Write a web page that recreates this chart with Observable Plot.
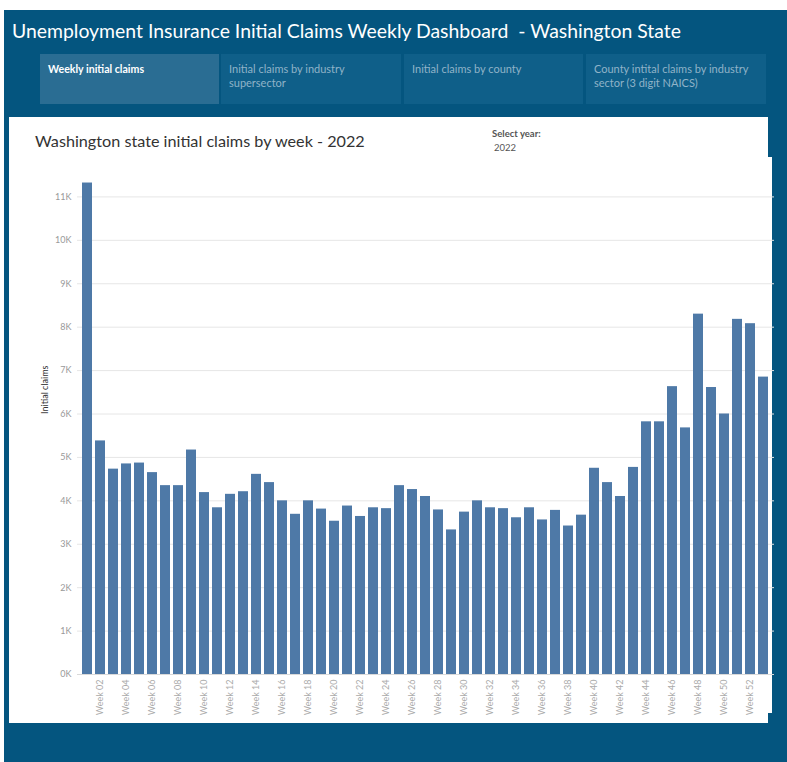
<!DOCTYPE html>
<html>
<head>
<meta charset="utf-8">
<script src="https://cdn.jsdelivr.net/npm/d3@7"></script>
<script src="https://cdn.jsdelivr.net/npm/@observablehq/plot@0.6"></script>
<style>
  body { margin: 0; background: #ffffff; font-family: Lato, "Noto Sans", sans-serif; }
  #page { position: relative; width: 787px; height: 762px; overflow: hidden; }
  .abs { position: absolute; }
  #bg { left: 4px; top: 10px; width: 783px; height: 752px; background: #04557f; }
  #title { left: 12px; top: 19px; color: #ffffff; font-size: 19.4px; white-space: pre; }
  .tab { top: 54px; height: 50px; background: #0f5f89; color: #8fb3c8; font-size: 11px; line-height: 14px; padding: 8px 8px; box-sizing: border-box; }
  .tab.active { background: #2a6d93; color: #ffffff; font-weight: bold; font-size: 10.6px; }
  .panel { background: #ffffff; }
  #ctitle { left: 35px; top: 131px; font-size: 16.2px; color: #333333; white-space: nowrap; }
  #sel { left: 492px; top: 128px; font-size: 9.5px; font-weight: bold; color: #555555; }
  #selv { left: 494px; top: 142px; font-size: 9.5px; color: #555555; }
  #chart { left: 0px; top: 140px; }
</style>
</head>
<body>
<div id="page">
  <div id="bg" class="abs"></div>
  <div id="title" class="abs"></div>
  <div id="tabs"></div>
  <div class="abs panel" style="left:9px;top:117px;width:759px;height:606px;"></div>
  <div class="abs panel" style="left:9px;top:157px;width:763px;height:556px;"></div>
  <div id="ctitle" class="abs"></div>
  <div id="sel" class="abs"></div>
  <div id="selv" class="abs"></div>
  <div id="chart" class="abs"></div>
</div>
<script>
const dashTitle = "Unemployment Insurance Initial Claims Weekly Dashboard  - Washington State";
const tabLabels = ["Weekly initial claims", "Initial claims by industry supersector", "Initial claims by county", "County intital claims by industry sector (3 digit NAICS)"];
const chartTitle = "Washington state initial claims by week - 2022";
const selectLabel = "Select year:";
const selectValue = "2022";
const yLabel = "Initial claims";

const weeks = ["Week 01","Week 02","Week 03","Week 04","Week 05","Week 06","Week 07","Week 08","Week 09","Week 10",
  "Week 11","Week 12","Week 13","Week 14","Week 15","Week 16","Week 17","Week 18","Week 19","Week 20",
  "Week 21","Week 22","Week 23","Week 24","Week 25","Week 26","Week 27","Week 28","Week 29","Week 30",
  "Week 31","Week 32","Week 33","Week 34","Week 35","Week 36","Week 37","Week 38","Week 39","Week 40",
  "Week 41","Week 42","Week 43","Week 44","Week 45","Week 46","Week 47","Week 48","Week 49","Week 50",
  "Week 51","Week 52","Week 53"];
const claims = [11320, 5380, 4730, 4850, 4870, 4650, 4350, 4350, 5170, 4190,
  3840, 4150, 4210, 4610, 4420, 4000, 3690, 4000, 3810, 3530,
  3880, 3640, 3840, 3820, 4350, 4260, 4100, 3790, 3330, 3740,
  4000, 3840, 3820, 3610, 3840, 3560, 3780, 3420, 3670, 4750,
  4420, 4100, 4770, 5820, 5820, 6630, 5680, 8300, 6610, 6000,
  8180, 8080, 6850];
const xTickLabels = ["Week 02","Week 04","Week 06","Week 08","Week 10","Week 12","Week 14","Week 16","Week 18","Week 20",
  "Week 22","Week 24","Week 26","Week 28","Week 30","Week 32","Week 34","Week 36","Week 38","Week 40",
  "Week 42","Week 44","Week 46","Week 48","Week 50","Week 52"];
const yTicks = [0,1000,2000,3000,4000,5000,6000,7000,8000,9000,10000,11000];

document.getElementById("title").textContent = dashTitle;
document.getElementById("ctitle").textContent = chartTitle;
document.getElementById("sel").textContent = selectLabel;
document.getElementById("selv").textContent = selectValue;

const tabLefts = [40, 221, 404, 586];
const tabWidths = [179, 180, 179, 180];
const tabsDiv = document.getElementById("tabs");
tabLabels.forEach((t, i) => {
  const d = document.createElement("div");
  d.className = "abs tab" + (i === 0 ? " active" : "");
  d.style.left = tabLefts[i] + "px";
  d.style.width = tabWidths[i] + "px";
  d.textContent = t;
  tabsDiv.appendChild(d);
});

const data = weeks.map((w, i) => ({week: w, claims: claims[i]}));

const chart = Plot.plot({
  width: 787,
  height: 620,
  marginLeft: 77,
  marginRight: 13,
  marginTop: 13,
  marginBottom: 86,
  style: {background: "transparent", fontFamily: "Lato, 'Noto Sans', sans-serif", fontSize: "9px"},
  x: {domain: weeks, padding: 0.22, label: null},
  y: {domain: [0, 12000], label: null},
  marks: [
    Plot.gridY(yTicks, {stroke: "#e6e6e6", strokeOpacity: 1}),
    Plot.barY(data, {x: "week", y: "claims", fill: "#4e79a7"}),
    Plot.ruleY([0], {stroke: "#d9d9d9"}),
    Plot.axisY(yTicks, {tickSize: 0, tickPadding: 6, tickFormat: d => (d / 1000) + "K", fill: "#999999", label: null}),
    Plot.axisX(xTickLabels, {tickSize: 0, tickPadding: 5, tickRotate: -90, fill: "#aaaaaa", label: null}),
    Plot.text([yLabel], {frameAnchor: "left", dx: -32, rotate: -90, fill: "#333333", fontSize: 9})
  ]
});
document.getElementById("chart").appendChild(chart);
</script>
</body>
</html>
